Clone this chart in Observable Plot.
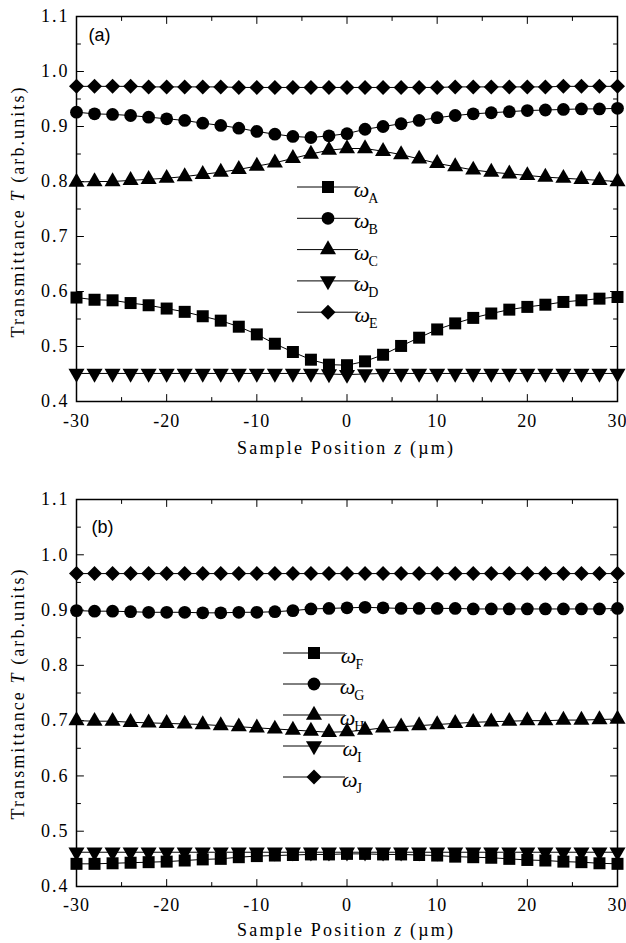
<!DOCTYPE html>
<html>
<head>
<meta charset="utf-8">
<script src="https://cdn.jsdelivr.net/npm/d3@7"></script>
<script src="https://cdn.jsdelivr.net/npm/@observablehq/plot@0.6"></script>
<style>
  body { margin: 0; background: #fff; }
  #chart { width: 626px; }
  #chart svg { display: block; background: #fff; }
  g[aria-label="x-axis tick label"] { letter-spacing: 1px; font-family: 'Liberation Serif','Times New Roman',serif !important; }
  g[aria-label="y-axis tick label"] { letter-spacing: 2px; font-family: 'Liberation Serif','Times New Roman',serif !important; }
</style>
</head>
<body>
<div id="chart"></div>
<script>
// ---------- data ----------
const zPos = [-30,-28,-26,-24,-22,-20,-18,-16,-14,-12,-10,-8,-6,-4,-2,0,2,4,6,8,10,12,14,16,18,20,22,24,26,28,30];

// panel (a)
const omegaA = [0.589,0.585,0.584,0.579,0.575,0.569,0.563,0.555,0.547,0.536,0.522,0.505,0.490,0.476,0.467,0.466,0.473,0.485,0.501,0.516,0.531,0.542,0.552,0.560,0.567,0.572,0.576,0.581,0.584,0.587,0.590];
const omegaB = [0.926,0.923,0.922,0.920,0.917,0.914,0.911,0.906,0.902,0.897,0.891,0.886,0.882,0.880,0.883,0.887,0.895,0.900,0.905,0.911,0.916,0.920,0.923,0.925,0.927,0.929,0.930,0.931,0.932,0.932,0.933];
const omegaC = [0.799,0.800,0.800,0.802,0.804,0.806,0.809,0.813,0.817,0.822,0.828,0.834,0.842,0.850,0.857,0.860,0.860,0.855,0.849,0.841,0.833,0.827,0.821,0.817,0.814,0.811,0.808,0.806,0.804,0.802,0.800];
const omegaD = [0.451,0.451,0.451,0.451,0.451,0.451,0.451,0.451,0.451,0.451,0.451,0.451,0.451,0.451,0.450,0.449,0.450,0.451,0.451,0.451,0.451,0.451,0.451,0.451,0.451,0.451,0.451,0.451,0.451,0.451,0.451];
const omegaE = [0.973,0.973,0.973,0.973,0.972,0.972,0.972,0.972,0.972,0.971,0.971,0.971,0.971,0.971,0.971,0.971,0.971,0.971,0.971,0.971,0.971,0.972,0.972,0.972,0.972,0.972,0.972,0.973,0.973,0.973,0.973];

// panel (b)
const omegaF = [0.441,0.441,0.442,0.443,0.444,0.445,0.447,0.449,0.450,0.453,0.455,0.456,0.457,0.458,0.458,0.459,0.459,0.458,0.458,0.457,0.456,0.454,0.453,0.452,0.450,0.448,0.447,0.445,0.444,0.442,0.441];
const omegaG = [0.899,0.898,0.898,0.897,0.896,0.896,0.896,0.895,0.895,0.896,0.896,0.897,0.899,0.902,0.903,0.904,0.905,0.904,0.903,0.903,0.903,0.903,0.902,0.902,0.902,0.902,0.902,0.902,0.902,0.902,0.903];
const omegaH = [0.700,0.699,0.699,0.697,0.696,0.695,0.694,0.693,0.691,0.689,0.687,0.685,0.683,0.681,0.679,0.680,0.683,0.687,0.689,0.691,0.693,0.695,0.697,0.698,0.699,0.700,0.700,0.701,0.701,0.702,0.703];
const omegaI = [0.462,0.462,0.462,0.462,0.462,0.462,0.462,0.462,0.462,0.462,0.462,0.462,0.462,0.462,0.462,0.462,0.462,0.462,0.462,0.462,0.462,0.462,0.462,0.462,0.462,0.462,0.462,0.462,0.462,0.462,0.462];
const omegaJ = [0.966,0.966,0.966,0.966,0.966,0.966,0.966,0.966,0.966,0.966,0.966,0.966,0.966,0.966,0.966,0.966,0.966,0.966,0.966,0.966,0.966,0.966,0.966,0.966,0.966,0.966,0.966,0.966,0.966,0.966,0.966];

const legendA = ["A","B","C","D","E"];
const legendB = ["F","G","H","I","J"];

// ticks
const xMajor = [-30,-20,-10,0,10,20,30];
const xMinor = [-25,-15,-5,5,15,25];
const xTickLabels = ["-30","-20","-10","0","10","20","30"];
const yMajor = [0.4,0.5,0.6,0.7,0.8,0.9,1.0,1.1];
const yMinor = [0.45,0.55,0.65,0.75,0.85,0.95,1.05];
const yTickLabels = ["0.4","0.5","0.6","0.7","0.8","0.9","1.0","1.1"];

const xTitle = ["Sample Position ", "z", " (µm)"];
const yTitle = ["Transmittance ", "T", " (arb.units)"];

// ---------- symbols ----------
const SERIF = "'Liberation Serif','Times New Roman',serif";
const SANS = "'Liberation Sans',Arial,sans-serif";
const sqrt3 = Math.sqrt(3);
const symTriDown = {draw(ctx, size) {
  const y = -Math.sqrt(size / (sqrt3 * 3));
  ctx.moveTo(0, -y * 2); ctx.lineTo(-sqrt3 * y, y); ctx.lineTo(sqrt3 * y, y); ctx.closePath();
}};
const symDiamond = {draw(ctx, size) {
  const r = Math.sqrt(size) * 0.62625;
  ctx.moveTo(0, -r); ctx.lineTo(r, 0); ctx.lineTo(0, r); ctx.lineTo(-r, 0); ctx.closePath();
}};
const symbols = [
  {type: d3.symbolSquare, size: 144},
  {type: d3.symbolCircle, size: 128},
  {type: d3.symbolTriangle, size: 112},
  {type: symTriDown, size: 112},
  {type: symDiamond, size: 143}
];

const tickShape = {draw(ctx, l) { ctx.moveTo(0, 0); ctx.lineTo(0, -l); }};
function tickMarks(values, axis, side, len) {
  const rot = {bottom: 0, top: 180, left: 90, right: -90}[side];
  return Plot.vector(values, {[axis]: d => d, frameAnchor: side, rotate: rot, length: len,
    anchor: "start", shape: tickShape, stroke: "black", strokeWidth: 1});
}

function panel(cfg) {
  const marks = [];
  cfg.series.forEach((s) => {
    const data = zPos.map((z, i) => ({z, v: s[i]}));
    marks.push(Plot.line(data, {x: "z", y: "v", stroke: "black", strokeWidth: 1}));
  });
  cfg.series.forEach((s, k) => {
    const data = zPos.map((z, i) => ({z, v: s[i]}));
    marks.push(Plot.dot(data, {x: "z", y: "v", symbol: symbols[k].type,
      r: Math.sqrt(symbols[k].size / Math.PI), fill: "black", stroke: "none"}));
  });
  const svg = Plot.plot({
    width: 626,
    height: cfg.height,
    marginTop: cfg.marginTop,
    marginBottom: cfg.marginBottom,
    marginLeft: 76,
    marginRight: 9,
    style: {fontFamily: SERIF, fontSize: "18px", background: "#fff", color: "black", overflow: "visible"},
    x: {domain: [-30, 30]},
    y: {domain: [0.4, 1.1]},
    marks: [
      ...marks,
      Plot.frame({stroke: "black", strokeWidth: 1.5}),
      tickMarks(xMajor, "x", "bottom", 7), tickMarks(xMinor, "x", "bottom", 4),
      tickMarks(xMajor, "x", "top", 7), tickMarks(xMinor, "x", "top", 4),
      tickMarks(yMajor, "y", "left", 7), tickMarks(yMinor, "y", "left", 4),
      tickMarks(yMajor, "y", "right", 7), tickMarks(yMinor, "y", "right", 4),
      Plot.axisX(xMajor, {tickSize: 0, tickPadding: cfg.xPad, label: null, fontSize: 18, fontFamily: SERIF,
        tickFormat: d => xTickLabels[xMajor.indexOf(d)]}),
      Plot.axisY(yMajor, {tickSize: 0, tickPadding: 7, label: null, fontSize: 18, fontFamily: SERIF,
        tickFormat: d => yTickLabels[yMajor.indexOf(d)]}),
      Plot.text([cfg.label], {frameAnchor: "top-left", dx: cfg.labelDx, dy: cfg.labelDy, textAnchor: "start",
        lineAnchor: "middle", fontFamily: SANS, fontSize: 18})
    ]
  });
  const s = d3.select(svg);
  const frameBottom = cfg.height - cfg.marginBottom;
  const frameMidY = (cfg.marginTop + frameBottom) / 2;
  // x title
  const xt = s.append("text").attr("x", 345).attr("y", frameBottom + cfg.xTitleOff)
    .attr("text-anchor", "middle").attr("font-family", SERIF).attr("font-size", 18)
    .attr("textLength", 216).attr("lengthAdjust", "spacing");
  xt.append("tspan").text(xTitle[0]);
  xt.append("tspan").attr("font-style", "italic").text(xTitle[1]);
  xt.append("tspan").text(xTitle[2]);
  // y title
  const yt = s.append("text").attr("transform", `translate(24,${frameMidY + cfg.yTitleShift}) rotate(-90)`)
    .attr("text-anchor", "middle").attr("font-family", SERIF).attr("font-size", 18)
    .attr("textLength", 250).attr("lengthAdjust", "spacing");
  yt.append("tspan").text(yTitle[0]);
  yt.append("tspan").attr("font-style", "italic").text(yTitle[1]);
  yt.append("tspan").text(yTitle[2]);
  // legend
  const L = cfg.legend;
  const g = s.append("g");
  cfg.legendLabels.forEach((lab, i) => {
    const y = L.y0 + i * L.dy;
    g.append("line").attr("x1", L.x0).attr("x2", L.x1).attr("y1", y).attr("y2", y)
      .attr("stroke", "black").attr("stroke-width", 1);
    g.append("path").attr("d", d3.symbol(symbols[i].type, symbols[i].size)())
      .attr("transform", `translate(${L.xm},${y})`).attr("fill", "black");
    const t = g.append("text").attr("x", L.xt).attr("y", y + 10).attr("font-family", SERIF)
      .attr("font-size", 22).attr("font-style", "italic").text("ω");
    t.append("tspan").attr("font-style", "normal").attr("font-size", 14).attr("dx", -1).attr("dy", 6).text(lab);
  });
  return svg;
}

const chart = document.getElementById("chart");
chart.append(panel({
  height: 470, marginTop: 16, marginBottom: 69, xPad: 13, xTitleOff: 53, yTitleShift: 4,
  series: [omegaA, omegaB, omegaC, omegaD, omegaE],
  label: "(a)", labelDx: 12, labelDy: 19,
  legendLabels: legendA,
  legend: {x0: 297, x1: 358, xm: 328, xt: 366, y0: 187, dy: 31.3}
}));
chart.append(panel({
  height: 473, marginTop: 29, marginBottom: 57, xPad: 12, xTitleOff: 50, yTitleShift: 2,
  series: [omegaF, omegaG, omegaH, omegaI, omegaJ],
  label: "(b)", labelDx: 15, labelDy: 28,
  legendLabels: legendB,
  legend: {x0: 283, x1: 345, xm: 314, xt: 352, y0: 183, dy: 31}
}));
</script>
</body>
</html>
